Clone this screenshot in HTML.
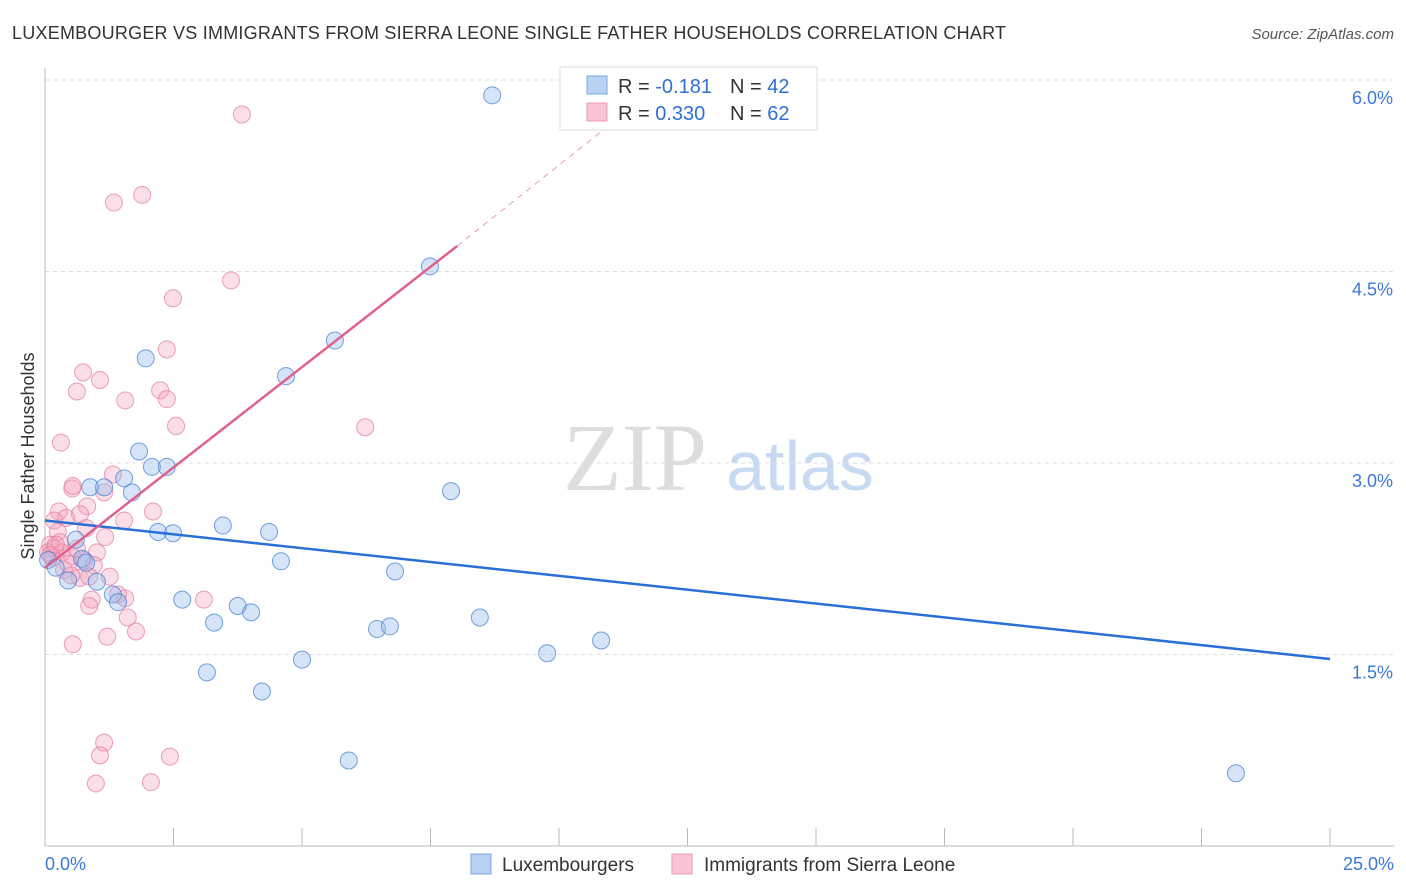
<!DOCTYPE html>
<html><head><meta charset="utf-8"><style>
body{margin:0;background:#fff;font-family:"Liberation Sans",sans-serif;}
svg{display:block}
</style></head><body>
<svg id="chart" width="1406" height="892">
<text x="12" y="39" font-size="18" fill="#333" textLength="994">LUXEMBOURGER VS IMMIGRANTS FROM SIERRA LEONE SINGLE FATHER HOUSEHOLDS CORRELATION CHART</text>
<text x="1394" y="39" font-size="15" fill="#555" font-style="italic" text-anchor="end">Source: ZipAtlas.com</text>
<text x="34" y="456" font-size="18" fill="#333" text-anchor="middle" transform="rotate(-90 34 456)">Single Father Households</text>
<g><text x="635" y="490" font-size="96" fill="#ddd" font-family="Liberation Serif,serif" text-anchor="middle">ZIP</text><text x="800" y="490" font-size="70" fill="#c8daf2" text-anchor="middle">atlas</text></g>
<g id="grid"></g><g id="marks"></g>
<g>
<rect x="560" y="67" width="257" height="63" fill="#fff" stroke="#ddd"/>
<rect x="587" y="76" width="20" height="18" fill="#b9d2f3" stroke="#7aa6e0"/>
<rect x="587" y="103" width="20" height="18" fill="#f9c5d4" stroke="#ea9bb4"/>
<text x="618" y="93" font-size="20" fill="#333">R = <tspan fill="#2f6fd6">-0.181</tspan></text>
<text x="730" y="93" font-size="20" fill="#333">N = <tspan fill="#2f6fd6">42</tspan></text>
<text x="618" y="120" font-size="20" fill="#333">R = <tspan fill="#2f6fd6">0.330</tspan></text>
<text x="730" y="120" font-size="20" fill="#333">N = <tspan fill="#2f6fd6">62</tspan></text>
</g>
<g>
<rect x="471" y="854" width="20" height="20" fill="#b9d2f3" stroke="#7aa6e0"/>
<text x="502" y="871" font-size="19" fill="#333">Luxembourgers</text>
<rect x="672" y="854" width="20" height="20" fill="#f9c5d4" stroke="#ea9bb4"/>
<text x="704" y="871" font-size="19" fill="#333">Immigrants from Sierra Leone</text>
</g>
</svg>
<script>
const yTicks=[1.5,3.0,4.5,6.0];
const yTickLabels=["1.5%","3.0%","4.5%","6.0%"];
const xTicks=[0,2.5,5,7.5,10,12.5,15,17.5,20,22.5,25];
const blueX=[8.70,7.49,5.64,4.69,1.96,1.83,2.08,2.37,0.88,1.15,1.54,1.69,7.90,3.46,4.36,2.20,2.49,0.60,0.06,0.21,0.72,0.80,1.01,0.45,4.59,6.81,2.67,3.75,4.01,3.29,1.32,1.42,8.46,6.46,6.71,10.82,9.77,5.00,3.15,4.22,5.91,23.17];
const blueY=[5.88,4.54,3.96,3.68,3.82,3.09,2.97,2.97,2.81,2.81,2.88,2.77,2.78,2.51,2.46,2.46,2.45,2.40,2.24,2.18,2.25,2.22,2.07,2.08,2.23,2.15,1.93,1.88,1.83,1.75,1.97,1.91,1.79,1.70,1.72,1.61,1.51,1.46,1.36,1.21,0.67,0.57];
const pinkX=[3.83,1.89,1.34,3.62,2.49,2.37,0.74,1.07,0.62,2.24,2.37,1.56,2.55,6.23,0.31,1.32,0.53,1.15,0.27,0.54,0.82,0.68,0.41,1.54,2.10,0.18,1.17,0.80,0.25,0.10,0.19,0.33,0.53,0.14,0.06,1.01,0.37,0.68,0.95,0.86,0.51,1.26,0.29,0.91,1.42,1.56,1.61,0.86,1.77,1.21,3.09,0.54,1.15,1.07,2.43,0.99,2.06,0.10,0.21,0.45,0.76,0.62];
const pinkY=[5.73,5.10,5.04,4.43,4.29,3.89,3.71,3.65,3.56,3.57,3.50,3.49,3.29,3.28,3.16,2.91,2.80,2.77,2.62,2.82,2.66,2.60,2.57,2.55,2.62,2.55,2.42,2.49,2.46,2.36,2.33,2.30,2.27,2.26,2.30,2.30,2.16,2.10,2.20,2.11,2.12,2.11,2.38,1.93,1.97,1.94,1.79,1.88,1.68,1.64,1.93,1.58,0.81,0.71,0.70,0.49,0.50,2.28,2.36,2.21,2.24,2.33];
const blueTrend=[2.55,1.465];
const pinkTrend=[2.18,4.70,8.02];
const pinkDashEnd=[10.99,5.65];
const X=v=>45+v/25*1285, Y=v=>846-v/6*766;
const NS="http://www.w3.org/2000/svg";
function mk(tag,attrs,parent){const e=document.createElementNS(NS,tag);for(const k in attrs)e.setAttribute(k,attrs[k]);parent.appendChild(e);return e;}
const grid=document.getElementById('grid'), marks=document.getElementById('marks');
yTicks.forEach((t,i)=>{
 const l=mk('line',{x1:45,x2:1394,y1:Y(t),y2:Y(t),stroke:'#ddd','stroke-dasharray':'4,4'},grid);
 
 
 const tx=mk('text',{x:1393,y:Y(t)+24,'font-size':18,fill:'#3b78d8','text-anchor':'end'},grid);
 tx.textContent=yTickLabels[i];
 
 
});
const ax=mk('line',{x1:45,x2:1394,y1:846,y2:846,stroke:'#bbb'},grid);


const ay=mk('line',{x1:45,x2:45,y1:68,y2:846,stroke:'#bbb'},grid);


xTicks.forEach(t=>{
 const l=mk('line',{x1:X(t),x2:X(t),y1:828,y2:846,stroke:'#bbb'},grid);
 
 
});
const x0=mk('text',{x:45,y:870,'font-size':18,fill:'#3b78d8'},grid);x0.textContent='0.0%';


const x1=mk('text',{x:1394,y:870,'font-size':18,fill:'#3b78d8','text-anchor':'end'},grid);x1.textContent='25.0%';


pinkX.forEach((v,i)=>{
 const c=mk('circle',{cx:X(v),cy:Y(pinkY[i]),r:8.5,fill:'rgba(244,160,186,0.35)',stroke:'rgba(230,120,155,0.7)','stroke-width':1},marks);
 
 
});
blueX.forEach((v,i)=>{
 const c=mk('circle',{cx:X(v),cy:Y(blueY[i]),r:8.5,fill:'rgba(150,188,238,0.4)',stroke:'rgba(70,130,215,0.75)','stroke-width':1},marks);
 
 
});
const bl=mk('line',{x1:X(0),y1:Y(blueTrend[0]),x2:X(25),y2:Y(blueTrend[1]),stroke:'#2a6fd6','stroke-width':2.5},marks);


const pd=mk('line',{x1:X(pinkTrend[2]),y1:Y(pinkTrend[1]),x2:X(pinkDashEnd[0]),y2:Y(pinkDashEnd[1]),stroke:'#e3a0b6','stroke-width':1,'stroke-dasharray':'6,5'},marks);


const pl=mk('line',{x1:X(0),y1:Y(pinkTrend[0]),x2:X(pinkTrend[2]),y2:Y(pinkTrend[1]),stroke:'#e0608c','stroke-width':2.5},marks);


</script>
</body></html>
